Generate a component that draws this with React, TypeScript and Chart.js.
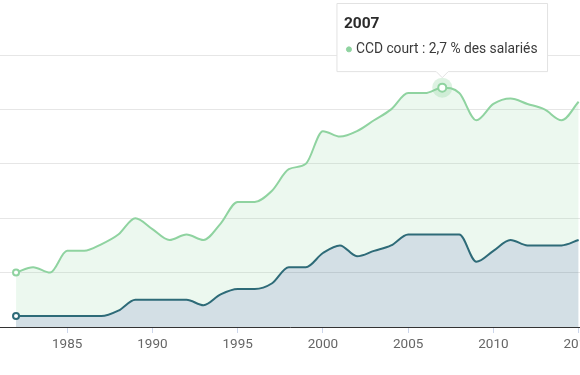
import React, { useEffect, useRef } from 'react';
import { Chart, registerables } from 'chart.js';

Chart.register(...registerables);

const YEARS = [
  1982, 1983, 1984, 1985, 1986, 1987, 1988, 1989, 1990, 1991, 1992, 1993,
  1994, 1995, 1996, 1997, 1998, 1999, 2000, 2001, 2002, 2003, 2004, 2005,
  2006, 2007, 2008, 2009, 2010, 2011, 2012, 2013, 2014, 2015,
];

const CCD_COURT = [
  1.0, 1.05, 1.0, 1.2, 1.2, 1.26, 1.35, 1.5, 1.4, 1.3, 1.35, 1.3,
  1.45, 1.65, 1.65, 1.75, 1.95, 2.0, 2.3, 2.25, 2.3, 2.4, 2.5, 2.65,
  2.65, 2.7, 2.65, 2.4, 2.55, 2.6, 2.55, 2.5, 2.4, 2.57,
];

const AUTRE = [
  0.6, 0.6, 0.6, 0.6, 0.6, 0.6, 0.65, 0.75, 0.75, 0.75, 0.75, 0.7,
  0.8, 0.85, 0.85, 0.9, 1.05, 1.05, 1.18, 1.25, 1.15, 1.2, 1.25, 1.35,
  1.35, 1.35, 1.35, 1.1, 1.2, 1.3, 1.25, 1.25, 1.25, 1.3,
];

const X_TICKS = [1985, 1990, 1995, 2000, 2005, 2010, 2015];
const Y_TICKS = [0.5, 1.0, 1.5, 2.0, 2.5, 3.0];

const SERIES_COURT = 'CCD court';
const SERIES_AUTRE = 'Autre';
const HIGHLIGHT_YEAR = 2007;

const GREEN = '#8fd3a0';
const GREEN_FILL = 'rgba(143, 211, 160, 0.17)';
const TEAL = '#2e6b78';
const TEAL_FILL = 'rgba(35, 95, 125, 0.2)';
const FONT = 'Roboto, "Liberation Sans", sans-serif';

const fmt = (v: number) => v.toFixed(1).replace('.', ',');

export default function App() {
  const ref = useRef<HTMLCanvasElement | null>(null);

  useEffect(() => {
    if (!ref.current) return;
    const hi = YEARS.indexOf(HIGHLIGHT_YEAR);

    const haloPlugin = {
      id: 'halo',
      afterDatasetsDraw(chart: any) {
        const meta = chart.getDatasetMeta(1);
        const el = meta.data[hi];
        if (!el) return;
        const ctx = chart.ctx;
        ctx.save();
        ctx.beginPath();
        ctx.arc(el.x, el.y, 10, 0, Math.PI * 2);
        ctx.fillStyle = 'rgba(143, 211, 160, 0.3)';
        ctx.fill();
        ctx.beginPath();
        ctx.arc(el.x, el.y, 4, 0, Math.PI * 2);
        ctx.fillStyle = '#ffffff';
        ctx.fill();
        ctx.lineWidth = 2;
        ctx.strokeStyle = GREEN;
        ctx.stroke();
        ctx.restore();
      },
    };

    const chart = new Chart(ref.current, {
      type: 'line',
      data: {
        datasets: [
          {
            label: SERIES_AUTRE,
            data: YEARS.map((x, i) => ({ x, y: AUTRE[i] })),
            borderColor: TEAL,
            backgroundColor: TEAL_FILL,
            borderWidth: 2,
            fill: 'start',
            cubicInterpolationMode: 'monotone',
            pointRadius: (c: any) => (c.dataIndex === 0 ? 3 : 0),
            pointHoverRadius: 0,
            pointBackgroundColor: '#ffffff',
            pointBorderColor: TEAL,
            pointBorderWidth: 2,
            order: 0,
          },
          {
            label: SERIES_COURT,
            data: YEARS.map((x, i) => ({ x, y: CCD_COURT[i] })),
            borderColor: GREEN,
            backgroundColor: GREEN_FILL,
            borderWidth: 2,
            fill: 0,
            cubicInterpolationMode: 'monotone',
            pointRadius: (c: any) => (c.dataIndex === 0 ? 3 : 0),
            pointHoverRadius: 0,
            pointBackgroundColor: '#ffffff',
            pointBorderColor: GREEN,
            pointBorderWidth: 2,
            order: 1,
          },
        ],
      },
      options: {
        animation: false,
        responsive: true,
        maintainAspectRatio: false,
        events: [],
        layout: { autoPadding: false, padding: { top: 55, left: 0, right: 0, bottom: 0 } },
        plugins: {
          legend: { display: false },
          tooltip: {
            enabled: true,
            backgroundColor: '#ffffff',
            borderColor: '#e2e2e2',
            borderWidth: 1,
            cornerRadius: 0,
            caretSize: 6,
            caretPadding: 10,
            xAlign: 'center',
            yAlign: 'bottom',
            padding: { top: 11, bottom: 14, left: 7, right: 10 },
            titleColor: '#2b2b2b',
            titleFont: { family: FONT, size: 15.5, weight: 'bold' },
            titleMarginBottom: 8,
            bodyColor: '#3a3a3a',
            bodyFont: { family: FONT, size: 13.8 },
            displayColors: true,
            usePointStyle: true,
            boxWidth: 10,
            boxHeight: 5,
            callbacks: {
              title: (items: any[]) => String(YEARS[items[0].dataIndex]),
              label: (item: any) =>
                `${item.dataset.label} : ${fmt(item.parsed.y)} % des salariés`,
              labelColor: () => ({ borderColor: GREEN, backgroundColor: GREEN, borderWidth: 0 }),
              labelPointStyle: () => ({ pointStyle: 'circle', rotation: 0 }),
            },
          },
        },
        scales: {
          x: {
            type: 'linear',
            min: 1981.06,
            max: 2015.08,
            afterBuildTicks: (s: any) => {
              s.ticks = X_TICKS.map((v) => ({ value: v }));
            },
            afterFit: (s: any) => {
              s.height = 48;
              s.paddingLeft = 0;
              s.paddingRight = 0;
            },
            grid: {
              drawOnChartArea: false,
              drawTicks: true,
              tickLength: 6,
              color: '#ccd6eb',
            },
            border: { display: true, color: '#333333', width: 1 },
            ticks: {
              autoSkip: false,
              maxRotation: 0,
              padding: 4,
              color: '#666666',
              font: { family: FONT, size: 13.5 },
              callback: (v: any) => String(v),
            },
          },
          y: {
            type: 'linear',
            min: 0.5,
            max: 3.0,
            afterBuildTicks: (s: any) => {
              s.ticks = Y_TICKS.map((v) => ({ value: v }));
            },
            afterFit: (s: any) => {
              s.width = 0;
            },
            grid: { color: '#e6e6e6', lineWidth: 1, drawTicks: false },
            border: { display: false },
            ticks: { display: false },
          },
        },
      },
      plugins: [haloPlugin],
    } as any);

    const active = [{ datasetIndex: 1, index: hi }];
    chart.setActiveElements(active);
    const el: any = chart.getDatasetMeta(1).data[hi];
    chart.tooltip?.setActiveElements(active, { x: el.x, y: el.y });
    chart.update();

    return () => chart.destroy();
  }, []);

  return (
    <div style={{ position: 'absolute', left: 0, top: 0, width: 580, height: 375, background: '#fff' }}>
      <canvas ref={ref} />
    </div>
  );
}
